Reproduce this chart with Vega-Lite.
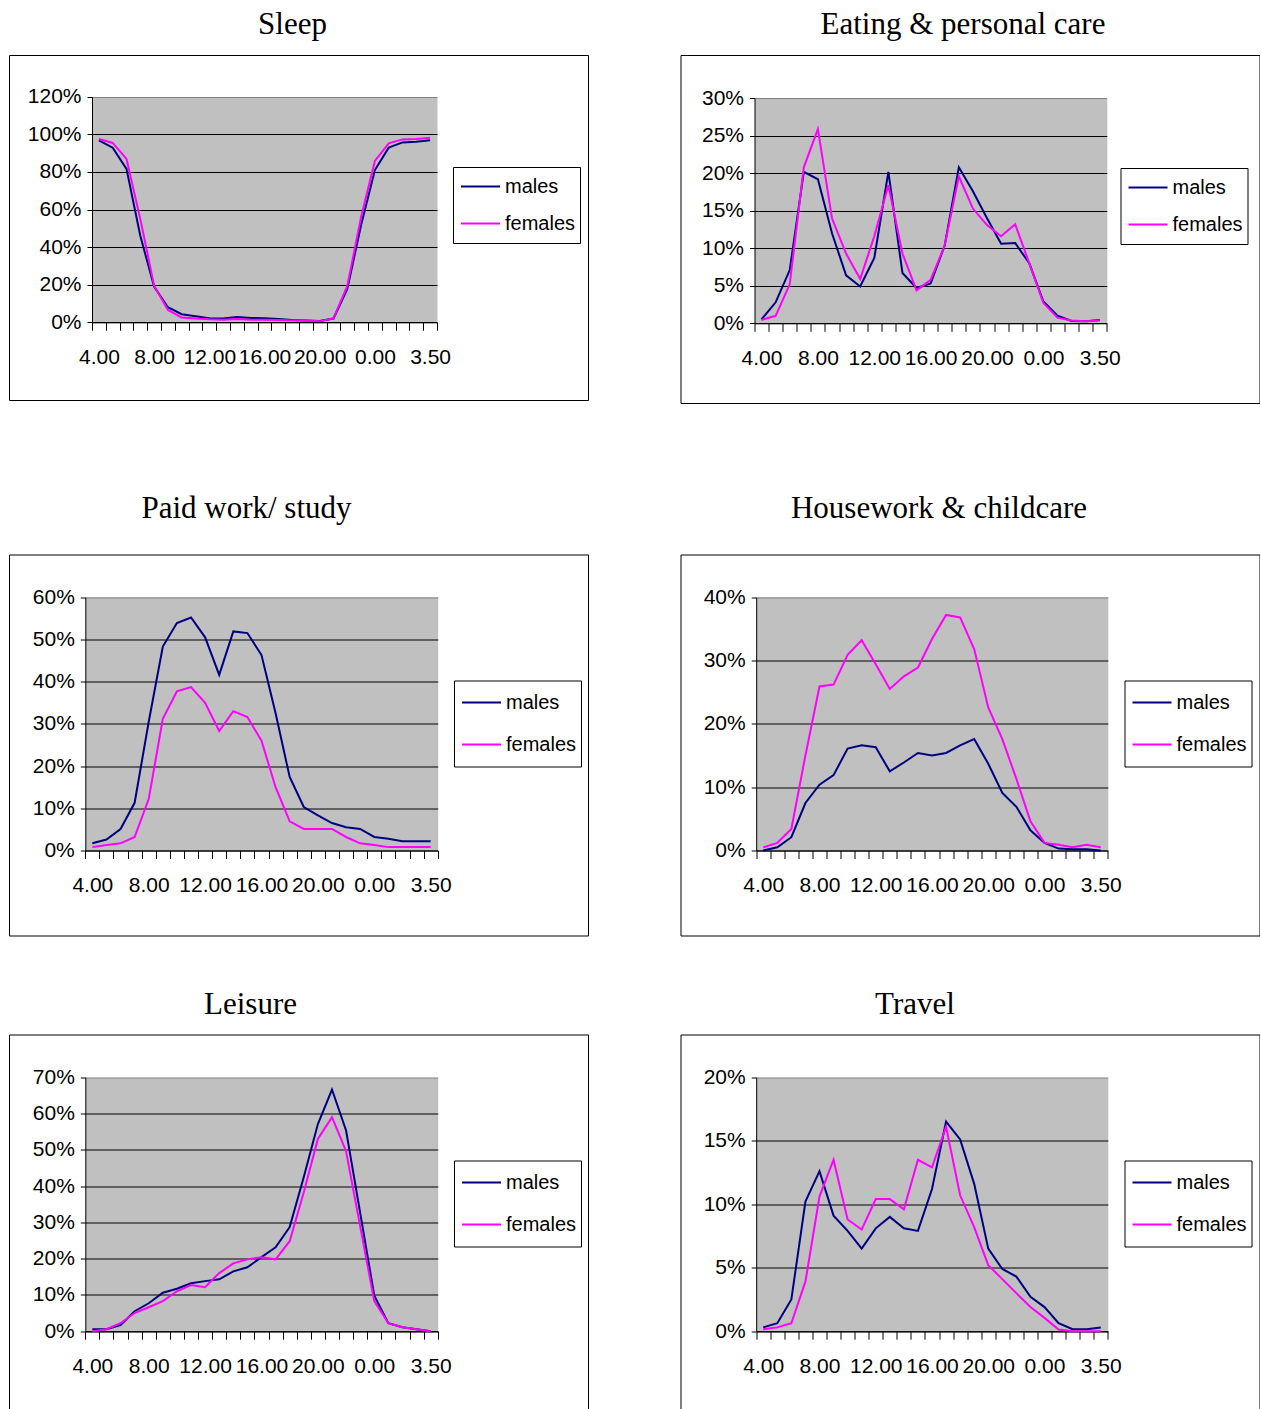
{
  "$schema": "https://vega.github.io/schema/vega-lite/v6.json",
  "autosize": {"type": "pad"},
  "padding": {"left": 8, "top": 8, "right": 0, "bottom": 0},
  "background": "white",
  "spacing": 51.5,
  "resolve": {"scale": {"color": "independent"}, "legend": {"color": "independent"}},
  "vconcat": [
    {
      "spacing": 87.5,
      "resolve": {"scale": {"color": "independent"}, "legend": {"color": "independent"}},
      "vconcat": [
        {
          "spacing": 90.5,
          "resolve": {"scale": {"color": "independent"}, "legend": {"color": "independent"}},
          "hconcat": [
            {
              "title": {"text": "Sleep", "dx": -6, "offset": 14},
              "width": 579, "height": 345,
              "data": {"values": [
                {"t": "4.00", "males": 0.968, "females": 0.975},
                {"t": "5.00", "males": 0.929, "females": 0.954},
                {"t": "6.00", "males": 0.816, "females": 0.869},
                {"t": "7.00", "males": 0.46, "females": 0.55},
                {"t": "8.00", "males": 0.19, "females": 0.195},
                {"t": "9.00", "males": 0.08, "females": 0.066},
                {"t": "10.00", "males": 0.043, "females": 0.025},
                {"t": "11.00", "males": 0.032, "females": 0.02},
                {"t": "12.00", "males": 0.021, "females": 0.016},
                {"t": "13.00", "males": 0.02, "females": 0.014},
                {"t": "14.00", "males": 0.028, "females": 0.018},
                {"t": "15.00", "males": 0.023, "females": 0.014},
                {"t": "16.00", "males": 0.021, "females": 0.014},
                {"t": "17.00", "males": 0.018, "females": 0.012},
                {"t": "18.00", "males": 0.012, "females": 0.01},
                {"t": "19.00", "males": 0.009, "females": 0.009},
                {"t": "20.00", "males": 0.007, "females": 0.005},
                {"t": "21.00", "males": 0.02, "females": 0.021},
                {"t": "22.00", "males": 0.177, "females": 0.193},
                {"t": "23.00", "males": 0.518, "females": 0.56},
                {"t": "0.00", "males": 0.81, "females": 0.858},
                {"t": "1.00", "males": 0.929, "females": 0.952},
                {"t": "2.00", "males": 0.957, "females": 0.973},
                {"t": "3.00", "males": 0.961, "females": 0.975},
                {"t": "3.50", "males": 0.968, "females": 0.982}
              ]},
              "encoding": {
                "x": {"field": "t", "type": "ordinal", "title": null,
                  "scale": {"type": "band", "domain": ["4.00","5.00","6.00","7.00","8.00","9.00","10.00","11.00","12.00","13.00","14.00","15.00","16.00","17.00","18.00","19.00","20.00","21.00","22.00","23.00","0.00","1.00","2.00","3.00","3.50"], "range": [83, 428], "paddingInner": 0, "paddingOuter": 0},
                  "axis": {"offset": -77.7, "tickBand": "extent", "tickSize": 8, "labelPadding": 16, "labelAngle": 0, "labelExpr": "indexof(['4.00','8.00','12.00','16.00','20.00','0.00','3.50'], datum.value) >= 0 ? datum.value : ''"}}
              },
              "layer": [
                {"mark": {"type": "line", "strokeWidth": 2},
                 "encoding": {
                   "y": {"field": "males", "type": "quantitative", "title": null,
                     "scale": {"domain": [0, 1.2], "range": [267.3, 41.7], "nice": false, "zero": true},
                     "axis": {"orient": "left", "offset": -83, "values": [0.6], "grid": true, "gridColor": "#C0C0C0", "gridWidth": 225.6, "labels": false, "ticks": false, "domain": false}},
                   "color": {"datum": "males", "type": "nominal",
                     "scale": {"domain": ["males", "females"], "range": ["#000080", "#FF00FF"]},
                     "legend": {"orient": "none", "legendX": 444, "legendY": 112, "clipHeight": 31}}}},
                {"mark": {"type": "line", "strokeWidth": 2},
                 "encoding": {
                   "y": {"field": "females", "type": "quantitative", "title": null,
                     "scale": {"domain": [0, 1.2], "range": [267.3, 41.7], "nice": false, "zero": true},
                     "axis": {"orient": "left", "offset": -83, "values": [0, 0.2, 0.4, 0.6, 0.8, 1.0, 1.2], "format": ".0%", "grid": true,
                       "gridColor": {"condition": {"test": "datum.value > 1.19", "value": "#808080"}, "value": "black"}, "tickSize": 5, "labelPadding": 6}},
                   "color": {"datum": "females", "type": "nominal"}}}
              ],
              "resolve": {"axis": {"y": "independent"}}
            },
            {
              "title": {"text": "Eating & personal care", "dx": -7, "offset": 14},
              "width": 579, "height": 348,
              "data": {"values": [
                {"t": "4.00", "males": 0.0053, "females": 0.0045},
                {"t": "5.00", "males": 0.028, "females": 0.01},
                {"t": "6.00", "males": 0.071, "females": 0.052},
                {"t": "7.00", "males": 0.202, "females": 0.208},
                {"t": "8.00", "males": 0.192, "females": 0.259},
                {"t": "9.00", "males": 0.12, "females": 0.14},
                {"t": "10.00", "males": 0.064, "females": 0.093},
                {"t": "11.00", "males": 0.049, "females": 0.059},
                {"t": "12.00", "males": 0.087, "females": 0.116},
                {"t": "13.00", "males": 0.202, "females": 0.184},
                {"t": "14.00", "males": 0.067, "females": 0.093},
                {"t": "15.00", "males": 0.047, "females": 0.044},
                {"t": "16.00", "males": 0.053, "females": 0.058},
                {"t": "17.00", "males": 0.104, "females": 0.104},
                {"t": "18.00", "males": 0.208, "females": 0.196},
                {"t": "19.00", "males": 0.176, "females": 0.153},
                {"t": "20.00", "males": 0.14, "females": 0.131},
                {"t": "21.00", "males": 0.106, "females": 0.116},
                {"t": "22.00", "males": 0.107, "females": 0.132},
                {"t": "23.00", "males": 0.08, "females": 0.08},
                {"t": "0.00", "males": 0.029, "females": 0.027},
                {"t": "1.00", "males": 0.01, "females": 0.0075},
                {"t": "2.00", "males": 0.003, "females": 0.0036},
                {"t": "3.00", "males": 0.0027, "females": 0.0027},
                {"t": "3.50", "males": 0.0045, "females": 0.0036}
              ]},
              "encoding": {
                "x": {"field": "t", "type": "ordinal", "title": null,
                  "scale": {"type": "band", "domain": ["4.00","5.00","6.00","7.00","8.00","9.00","10.00","11.00","12.00","13.00","14.00","15.00","16.00","17.00","18.00","19.00","20.00","21.00","22.00","23.00","0.00","1.00","2.00","3.00","3.50"], "range": [74, 426.3], "paddingInner": 0, "paddingOuter": 0},
                  "axis": {"offset": -79.7, "tickBand": "extent", "tickSize": 8, "labelPadding": 16, "labelAngle": 0, "labelExpr": "indexof(['4.00','8.00','12.00','16.00','20.00','0.00','3.50'], datum.value) >= 0 ? datum.value : ''"}}
              },
              "layer": [
                {"mark": {"type": "line", "strokeWidth": 2},
                 "encoding": {
                   "y": {"field": "males", "type": "quantitative", "title": null,
                     "scale": {"domain": [0, 0.3], "range": [268.3, 43.3], "nice": false, "zero": true},
                     "axis": {"orient": "left", "offset": -74, "values": [0.15], "grid": true, "gridColor": "#C0C0C0", "gridWidth": 225, "labels": false, "ticks": false, "domain": false}},
                   "color": {"datum": "males", "type": "nominal",
                     "scale": {"domain": ["males", "females"], "range": ["#000080", "#FF00FF"]},
                     "legend": {"orient": "none", "legendX": 440, "legendY": 113, "clipHeight": 31}}}},
                {"mark": {"type": "line", "strokeWidth": 2},
                 "encoding": {
                   "y": {"field": "females", "type": "quantitative", "title": null,
                     "scale": {"domain": [0, 0.3], "range": [268.3, 43.3], "nice": false, "zero": true},
                     "axis": {"orient": "left", "offset": -74, "values": [0, 0.05, 0.1, 0.15, 0.2, 0.25, 0.3], "format": ".0%", "grid": true,
                       "gridColor": {"condition": {"test": "datum.value > 0.29", "value": "#808080"}, "value": "black"}, "tickSize": 5, "labelPadding": 6}},
                   "color": {"datum": "females", "type": "nominal"}}}
              ],
              "resolve": {"axis": {"y": "independent"}}
            }
          ]
        },
        {
          "spacing": 90.5,
          "resolve": {"scale": {"color": "independent"}, "legend": {"color": "independent"}},
          "hconcat": [
            {
              "title": {"text": "Paid work/ study", "dx": -52, "offset": 30},
              "width": 579, "height": 381,
              "data": {"values": [
                {"t": "4.00", "males": 0.017, "females": 0.008},
                {"t": "5.00", "males": 0.026, "females": 0.013},
                {"t": "6.00", "males": 0.051, "females": 0.017},
                {"t": "7.00", "males": 0.113, "females": 0.032},
                {"t": "8.00", "males": 0.305, "females": 0.122},
                {"t": "9.00", "males": 0.483, "females": 0.312},
                {"t": "10.00", "males": 0.539, "females": 0.377},
                {"t": "11.00", "males": 0.552, "females": 0.387},
                {"t": "12.00", "males": 0.505, "females": 0.35},
                {"t": "13.00", "males": 0.416, "females": 0.283},
                {"t": "14.00", "males": 0.519, "females": 0.33},
                {"t": "15.00", "males": 0.515, "females": 0.316},
                {"t": "16.00", "males": 0.463, "females": 0.26},
                {"t": "17.00", "males": 0.325, "females": 0.15},
                {"t": "18.00", "males": 0.174, "females": 0.069},
                {"t": "19.00", "males": 0.103, "females": 0.051},
                {"t": "20.00", "males": 0.083, "females": 0.051},
                {"t": "21.00", "males": 0.065, "females": 0.051},
                {"t": "22.00", "males": 0.055, "females": 0.032},
                {"t": "23.00", "males": 0.051, "females": 0.017},
                {"t": "0.00", "males": 0.032, "females": 0.013},
                {"t": "1.00", "males": 0.028, "females": 0.008},
                {"t": "2.00", "males": 0.022, "females": 0.008},
                {"t": "3.00", "males": 0.022, "females": 0.008},
                {"t": "3.50", "males": 0.022, "females": 0.008}
              ]},
              "encoding": {
                "x": {"field": "t", "type": "ordinal", "title": null,
                  "scale": {"type": "band", "domain": ["4.00","5.00","6.00","7.00","8.00","9.00","10.00","11.00","12.00","13.00","14.00","15.00","16.00","17.00","18.00","19.00","20.00","21.00","22.00","23.00","0.00","1.00","2.00","3.00","3.50"], "range": [76.3, 428.7], "paddingInner": 0, "paddingOuter": 0},
                  "axis": {"offset": -85, "tickBand": "extent", "tickSize": 8, "labelPadding": 16, "labelAngle": 0, "labelExpr": "indexof(['4.00','8.00','12.00','16.00','20.00','0.00','3.50'], datum.value) >= 0 ? datum.value : ''"}}
              },
              "layer": [
                {"mark": {"type": "line", "strokeWidth": 2},
                 "encoding": {
                   "y": {"field": "males", "type": "quantitative", "title": null,
                     "scale": {"domain": [0, 0.6], "range": [296, 42.7], "nice": false, "zero": true},
                     "axis": {"orient": "left", "offset": -76.3, "values": [0.3], "grid": true, "gridColor": "#C0C0C0", "gridWidth": 253.3, "labels": false, "ticks": false, "domain": false}},
                   "color": {"datum": "males", "type": "nominal",
                     "scale": {"domain": ["males", "females"], "range": ["#000080", "#FF00FF"]},
                     "legend": {"orient": "none", "legendX": 445, "legendY": 126, "clipHeight": 36}}}},
                {"mark": {"type": "line", "strokeWidth": 2},
                 "encoding": {
                   "y": {"field": "females", "type": "quantitative", "title": null,
                     "scale": {"domain": [0, 0.6], "range": [296, 42.7], "nice": false, "zero": true},
                     "axis": {"orient": "left", "offset": -76.3, "values": [0, 0.1, 0.2, 0.3, 0.4, 0.5, 0.6], "format": ".0%", "grid": true,
                       "gridColor": {"condition": {"test": "datum.value > 0.59", "value": "#808080"}, "value": "black"}, "tickSize": 5, "labelPadding": 6}},
                   "color": {"datum": "females", "type": "nominal"}}}
              ],
              "resolve": {"axis": {"y": "independent"}}
            },
            {
              "title": {"text": "Housework & childcare", "dx": -31, "offset": 30},
              "width": 579, "height": 381,
              "data": {"values": [
                {"t": "4.00", "males": 0.0, "females": 0.005},
                {"t": "5.00", "males": 0.005, "females": 0.012},
                {"t": "6.00", "males": 0.021, "females": 0.034},
                {"t": "7.00", "males": 0.075, "females": 0.15},
                {"t": "8.00", "males": 0.104, "females": 0.259},
                {"t": "9.00", "males": 0.119, "females": 0.262},
                {"t": "10.00", "males": 0.161, "females": 0.309},
                {"t": "11.00", "males": 0.166, "females": 0.332},
                {"t": "12.00", "males": 0.163, "females": 0.294},
                {"t": "13.00", "males": 0.125, "females": 0.255},
                {"t": "14.00", "males": 0.139, "females": 0.275},
                {"t": "15.00", "males": 0.154, "females": 0.289},
                {"t": "16.00", "males": 0.15, "females": 0.334},
                {"t": "17.00", "males": 0.154, "females": 0.372},
                {"t": "18.00", "males": 0.166, "females": 0.368},
                {"t": "19.00", "males": 0.176, "females": 0.318},
                {"t": "20.00", "males": 0.137, "females": 0.226},
                {"t": "21.00", "males": 0.091, "females": 0.176},
                {"t": "22.00", "males": 0.069, "females": 0.113},
                {"t": "23.00", "males": 0.032, "females": 0.046},
                {"t": "0.00", "males": 0.012, "females": 0.012},
                {"t": "1.00", "males": 0.003, "females": 0.009},
                {"t": "2.00", "males": 0.002, "females": 0.005},
                {"t": "3.00", "males": 0.002, "females": 0.009},
                {"t": "3.50", "males": 0.0, "females": 0.005}
              ]},
              "encoding": {
                "x": {"field": "t", "type": "ordinal", "title": null,
                  "scale": {"type": "band", "domain": ["4.00","5.00","6.00","7.00","8.00","9.00","10.00","11.00","12.00","13.00","14.00","15.00","16.00","17.00","18.00","19.00","20.00","21.00","22.00","23.00","0.00","1.00","2.00","3.00","3.50"], "range": [75.7, 427.3], "paddingInner": 0, "paddingOuter": 0},
                  "axis": {"offset": -85, "tickBand": "extent", "tickSize": 8, "labelPadding": 16, "labelAngle": 0, "labelExpr": "indexof(['4.00','8.00','12.00','16.00','20.00','0.00','3.50'], datum.value) >= 0 ? datum.value : ''"}}
              },
              "layer": [
                {"mark": {"type": "line", "strokeWidth": 2},
                 "encoding": {
                   "y": {"field": "males", "type": "quantitative", "title": null,
                     "scale": {"domain": [0, 0.4], "range": [296, 42.7], "nice": false, "zero": true},
                     "axis": {"orient": "left", "offset": -75.7, "values": [0.2], "grid": true, "gridColor": "#C0C0C0", "gridWidth": 253.3, "labels": false, "ticks": false, "domain": false}},
                   "color": {"datum": "males", "type": "nominal",
                     "scale": {"domain": ["males", "females"], "range": ["#000080", "#FF00FF"]},
                     "legend": {"orient": "none", "legendX": 444, "legendY": 126, "clipHeight": 36}}}},
                {"mark": {"type": "line", "strokeWidth": 2},
                 "encoding": {
                   "y": {"field": "females", "type": "quantitative", "title": null,
                     "scale": {"domain": [0, 0.4], "range": [296, 42.7], "nice": false, "zero": true},
                     "axis": {"orient": "left", "offset": -75.7, "values": [0, 0.1, 0.2, 0.3, 0.4], "format": ".0%", "grid": true,
                       "gridColor": {"condition": {"test": "datum.value > 0.39", "value": "#808080"}, "value": "black"}, "tickSize": 5, "labelPadding": 6}},
                   "color": {"datum": "females", "type": "nominal"}}}
              ],
              "resolve": {"axis": {"y": "independent"}}
            }
          ]
        }
      ]
    },
    {
      "spacing": 90.5,
      "resolve": {"scale": {"color": "independent"}, "legend": {"color": "independent"}},
      "hconcat": [
        {
          "title": {"text": "Leisure", "dx": -48, "offset": 14},
          "width": 579, "height": 381,
          "data": {"values": [
            {"t": "4.00", "males": 0.0055, "females": 0.0},
            {"t": "5.00", "males": 0.0055, "females": 0.0055},
            {"t": "6.00", "males": 0.017, "females": 0.022},
            {"t": "7.00", "males": 0.055, "females": 0.05},
            {"t": "8.00", "males": 0.077, "females": 0.066},
            {"t": "9.00", "males": 0.106, "females": 0.083},
            {"t": "10.00", "males": 0.117, "females": 0.11},
            {"t": "11.00", "males": 0.132, "females": 0.127},
            {"t": "12.00", "males": 0.138, "females": 0.121},
            {"t": "13.00", "males": 0.143, "females": 0.16},
            {"t": "14.00", "males": 0.165, "females": 0.187},
            {"t": "15.00", "males": 0.176, "females": 0.198},
            {"t": "16.00", "males": 0.204, "females": 0.204},
            {"t": "17.00", "males": 0.231, "females": 0.198},
            {"t": "18.00", "males": 0.287, "females": 0.248},
            {"t": "19.00", "males": 0.425, "females": 0.383},
            {"t": "20.00", "males": 0.571, "females": 0.53},
            {"t": "21.00", "males": 0.666, "females": 0.59},
            {"t": "22.00", "males": 0.553, "females": 0.496},
            {"t": "23.00", "males": 0.326, "females": 0.289},
            {"t": "0.00", "males": 0.098, "females": 0.083},
            {"t": "1.00", "males": 0.022, "females": 0.022},
            {"t": "2.00", "males": 0.011, "females": 0.011},
            {"t": "3.00", "males": 0.0055, "females": 0.0055},
            {"t": "3.50", "males": 0.0, "females": 0.0}
          ]},
          "encoding": {
            "x": {"field": "t", "type": "ordinal", "title": null,
              "scale": {"type": "band", "domain": ["4.00","5.00","6.00","7.00","8.00","9.00","10.00","11.00","12.00","13.00","14.00","15.00","16.00","17.00","18.00","19.00","20.00","21.00","22.00","23.00","0.00","1.00","2.00","3.00","3.50"], "range": [76.3, 428.7], "paddingInner": 0, "paddingOuter": 0},
              "axis": {"offset": -84.3, "tickBand": "extent", "tickSize": 8, "labelPadding": 16, "labelAngle": 0, "labelExpr": "indexof(['4.00','8.00','12.00','16.00','20.00','0.00','3.50'], datum.value) >= 0 ? datum.value : ''"}}
          },
          "layer": [
            {"mark": {"type": "line", "strokeWidth": 2},
             "encoding": {
               "y": {"field": "males", "type": "quantitative", "title": null,
                 "scale": {"domain": [0, 0.7], "range": [296.7, 42.7], "nice": false, "zero": true},
                 "axis": {"orient": "left", "offset": -76.3, "values": [0.35], "grid": true, "gridColor": "#C0C0C0", "gridWidth": 254, "labels": false, "ticks": false, "domain": false}},
               "color": {"datum": "males", "type": "nominal",
                 "scale": {"domain": ["males", "females"], "range": ["#000080", "#FF00FF"]},
                 "legend": {"orient": "none", "legendX": 445, "legendY": 126, "clipHeight": 36}}}},
            {"mark": {"type": "line", "strokeWidth": 2},
             "encoding": {
               "y": {"field": "females", "type": "quantitative", "title": null,
                 "scale": {"domain": [0, 0.7], "range": [296.7, 42.7], "nice": false, "zero": true},
                 "axis": {"orient": "left", "offset": -76.3, "values": [0, 0.1, 0.2, 0.3, 0.4, 0.5, 0.6, 0.7], "format": ".0%", "grid": true,
                   "gridColor": {"condition": {"test": "datum.value > 0.69", "value": "#808080"}, "value": "black"}, "tickSize": 5, "labelPadding": 6}},
               "color": {"datum": "females", "type": "nominal"}}}
          ],
          "resolve": {"axis": {"y": "independent"}}
        },
        {
          "title": {"text": "Travel", "dx": -55, "offset": 14},
          "width": 579, "height": 381,
          "data": {"values": [
            {"t": "4.00", "males": 0.003, "females": 0.0016},
            {"t": "5.00", "males": 0.0063, "females": 0.003},
            {"t": "6.00", "males": 0.025, "females": 0.0063},
            {"t": "7.00", "males": 0.102, "females": 0.039},
            {"t": "8.00", "males": 0.126, "females": 0.106},
            {"t": "9.00", "males": 0.091, "females": 0.135},
            {"t": "10.00", "males": 0.079, "females": 0.088},
            {"t": "11.00", "males": 0.065, "females": 0.08},
            {"t": "12.00", "males": 0.081, "females": 0.104},
            {"t": "13.00", "males": 0.09, "females": 0.104},
            {"t": "14.00", "males": 0.081, "females": 0.096},
            {"t": "15.00", "males": 0.079, "females": 0.135},
            {"t": "16.00", "males": 0.112, "females": 0.129},
            {"t": "17.00", "males": 0.165, "females": 0.161},
            {"t": "18.00", "males": 0.151, "females": 0.107},
            {"t": "19.00", "males": 0.116, "females": 0.082},
            {"t": "20.00", "males": 0.065, "females": 0.052},
            {"t": "21.00", "males": 0.049, "females": 0.041},
            {"t": "22.00", "males": 0.043, "females": 0.03},
            {"t": "23.00", "males": 0.027, "females": 0.019},
            {"t": "0.00", "males": 0.019, "females": 0.0105},
            {"t": "1.00", "males": 0.0063, "females": 0.0013},
            {"t": "2.00", "males": 0.0016, "females": 0.0},
            {"t": "3.00", "males": 0.0016, "females": 0.0},
            {"t": "3.50", "males": 0.003, "females": 0.0}
          ]},
          "encoding": {
            "x": {"field": "t", "type": "ordinal", "title": null,
              "scale": {"type": "band", "domain": ["4.00","5.00","6.00","7.00","8.00","9.00","10.00","11.00","12.00","13.00","14.00","15.00","16.00","17.00","18.00","19.00","20.00","21.00","22.00","23.00","0.00","1.00","2.00","3.00","3.50"], "range": [75.7, 427.3], "paddingInner": 0, "paddingOuter": 0},
              "axis": {"offset": -84.3, "tickBand": "extent", "tickSize": 8, "labelPadding": 16, "labelAngle": 0, "labelExpr": "indexof(['4.00','8.00','12.00','16.00','20.00','0.00','3.50'], datum.value) >= 0 ? datum.value : ''"}}
          },
          "layer": [
            {"mark": {"type": "line", "strokeWidth": 2},
             "encoding": {
               "y": {"field": "males", "type": "quantitative", "title": null,
                 "scale": {"domain": [0, 0.2], "range": [296.7, 42.7], "nice": false, "zero": true},
                 "axis": {"orient": "left", "offset": -75.7, "values": [0.1], "grid": true, "gridColor": "#C0C0C0", "gridWidth": 254, "labels": false, "ticks": false, "domain": false}},
               "color": {"datum": "males", "type": "nominal",
                 "scale": {"domain": ["males", "females"], "range": ["#000080", "#FF00FF"]},
                 "legend": {"orient": "none", "legendX": 444, "legendY": 126, "clipHeight": 36}}}},
            {"mark": {"type": "line", "strokeWidth": 2},
             "encoding": {
               "y": {"field": "females", "type": "quantitative", "title": null,
                 "scale": {"domain": [0, 0.2], "range": [296.7, 42.7], "nice": false, "zero": true},
                 "axis": {"orient": "left", "offset": -75.7, "values": [0, 0.05, 0.1, 0.15, 0.2], "format": ".0%", "grid": true,
                   "gridColor": {"condition": {"test": "datum.value > 0.19", "value": "#808080"}, "value": "black"}, "tickSize": 5, "labelPadding": 6}},
               "color": {"datum": "females", "type": "nominal"}}}
          ],
          "resolve": {"axis": {"y": "independent"}}
        }
      ]
    }
  ],
  "config": {
    "view": {"stroke": "black", "strokeWidth": 1, "fill": "white"},
    "font": "Liberation Sans",
    "axis": {"labelFont": "Liberation Sans", "labelFontSize": 21, "labelColor": "black", "domainColor": "black", "tickColor": "black", "domainWidth": 1, "tickWidth": 1, "gridWidth": 1, "gridOpacity": 1},
    "title": {"font": "Liberation Serif", "fontSize": 31, "fontWeight": "normal", "color": "black", "baseline": "alphabetic", "anchor": "middle"},
    "legend": {"title": null, "strokeColor": "black", "fillColor": "white", "padding": 4, "symbolOffset": 3, "symbolType": "stroke", "symbolSize": 1521, "symbolStrokeWidth": 2, "labelFontSize": 20, "labelFont": "Liberation Sans", "labelColor": "black", "labelOffset": 4, "rowPadding": 6}
  }
}
